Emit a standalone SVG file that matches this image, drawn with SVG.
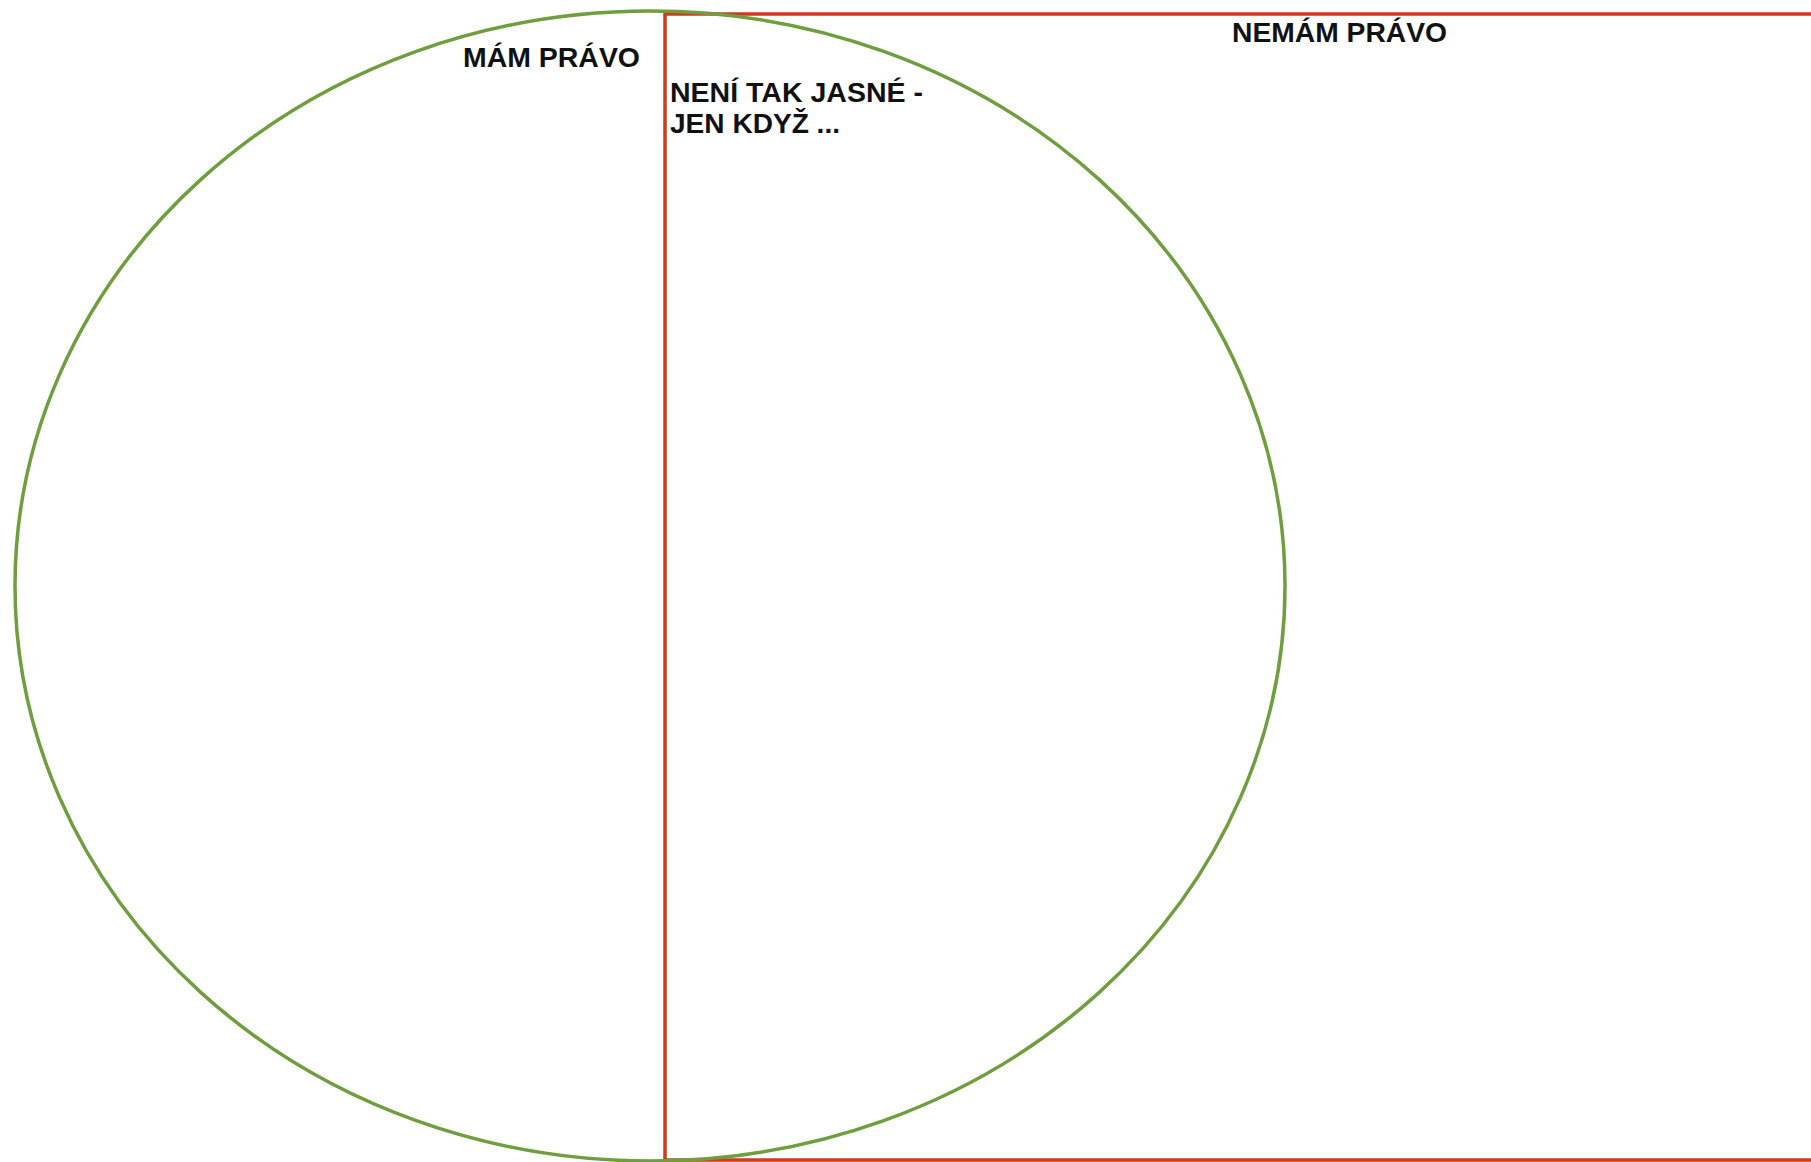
<svg xmlns="http://www.w3.org/2000/svg" width="1811" height="1162" viewBox="0 0 1811 1162">
<style>
.lbl{font-family:"Liberation Sans",Arial,sans-serif;font-weight:bold;font-size:27px;fill:#111;}
</style>
<rect x="0" y="0" width="1811" height="1162" fill="#ffffff"/>
<g id="nemam-pravo">
<rect x="665" y="14" width="1200" height="1146" fill="none" stroke="#d0391c" stroke-width="3.5"/>
<text class="lbl" x="1232" y="42" textLength="215" lengthAdjust="spacingAndGlyphs">NEMÁM PRÁVO</text>
</g>
<g id="mam-pravo">
<ellipse cx="650" cy="586" rx="635" ry="575" fill="none" stroke="#6f9e3e" stroke-width="3.5"/>
<text class="lbl" x="463" y="67" textLength="177" lengthAdjust="spacingAndGlyphs">MÁM PRÁVO</text>
</g>
<g id="neni-tak-jasne">
<text class="lbl" x="670" y="102" textLength="253" lengthAdjust="spacingAndGlyphs">NENÍ TAK JASNÉ -</text>
<text class="lbl" x="670" y="133" textLength="170" lengthAdjust="spacingAndGlyphs">JEN KDYŽ ...</text>
</g>
<g id="connectors"></g>
</svg>
